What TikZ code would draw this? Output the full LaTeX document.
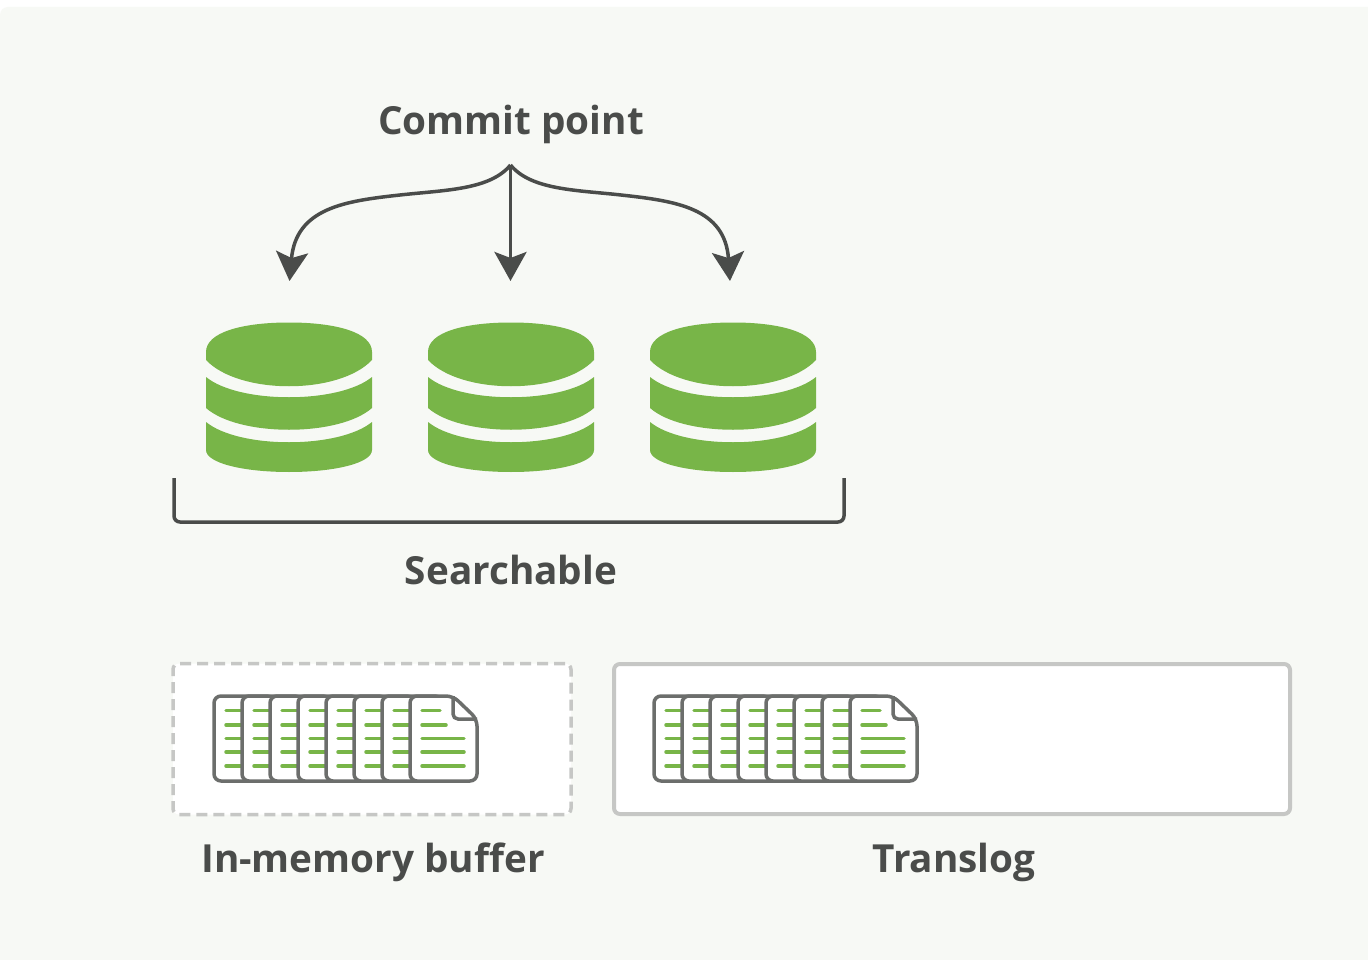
\documentclass[tikz,border=0pt]{standalone}
\usepackage{fontspec}
\setmainfont{Open Sans}
\usepackage[dvipsnames]{xcolor}
\usetikzlibrary{arrows.meta}
\definecolor{panelbg}{HTML}{F7F9F5}
\definecolor{diskgreen}{HTML}{78B548}
\definecolor{inkgray}{HTML}{4A4C4A}
\definecolor{docgray}{HTML}{6C6E6C}
\definecolor{boxgray}{HTML}{C6C7C5}

\tikzset{
    pics/disk/.style={code={
        \fill[diskgreen] (-83,352) .. controls (-83,332) and (-46,322.5) .. (0,322.5) .. controls (46,322.5) and (83,332) .. (83,352) -- (83,360) .. controls (50,395) and (-50,395) .. (-83,360) -- cycle;
        \fill[diskgreen] (-83,377) .. controls (-50,404) and (50,404) .. (83,377) -- (83,408) .. controls (50,437) and (-50,437) .. (-83,408) -- cycle;
        \fill[diskgreen] (-83,422) .. controls (-50,449) and (50,449) .. (83,422) -- (83,450) .. controls (83,463) and (46,472) .. (0,472) .. controls (-46,472) and (-83,463) .. (-83,450) -- cycle;
    }},
    pics/docstack/.style={code={
        \foreach \i in {0,...,6} {
            \draw[docline, fill=white, rounded corners=7pt] ({\i*28},696) rectangle ({\i*28+60},781);
            \foreach \ly in {710.7,725,738.7,752,766}
                \draw[textline] ({\i*28+12},\ly) -- ({\i*28+28},\ly);
        }
        \draw[docline, fill=white, rounded corners=7pt] (196,781) -- (196,696) -- (239,696) -- (263,719) -- (263,781) -- cycle;
        \draw[docline, rounded corners=5pt] (239,696) -- (239,719) -- (263,719);
        \draw[textline] (208,710.7) -- (226,710.7);
        \draw[textline] (208,725) -- (232,725);
        \foreach \ly in {738.7,752,766}
            \draw[textline] (208,\ly) -- (250,\ly);
    }}
}

\begin{document}
\begin{tikzpicture}[x=1pt,y=-1pt,>={Stealth[length=29pt,width=32pt,inset=6pt]},
    docline/.style={draw=docgray,line width=3.5pt},
    textline/.style={draw=diskgreen,line width=3.5pt,line cap=round},
    flow/.style={draw=inkgray,line width=3.5pt},
    caption/.style={font=\bfseries\fontsize{38.7}{46}\selectfont,text=inkgray,inner sep=0pt,anchor=base},
    bufferbox/.style={draw=boxgray,fill=white,line width=3.5pt,rounded corners=6pt,dash pattern=on 11pt off 6pt,minimum width=398pt,minimum height=151pt,inner sep=0pt},
    translogbox/.style={draw=boxgray,fill=white,line width=4pt,rounded corners=6pt,minimum width=676pt,minimum height=150pt,inner sep=0pt}]

    \useasboundingbox (0,0) rectangle (1368,960);
    \fill[white] (0,0) rectangle (1368,960);
    \fill[panelbg, rounded corners=8pt] (0,7) rectangle (1380,970);

    \node[caption] (commit) at (511,135) {Commit point};
    \coordinate (apex) at (510.5,165);
    \coordinate (tipa) at (289.5,281);
    \coordinate (tipb) at (510.5,281);
    \coordinate (tipc) at (730,281);

    \draw[flow,->] (apex) .. controls (490,190) and (445,190) .. (400,195) .. controls (345,201) and (296,208) .. (tipa);
    \draw[flow,->] (apex) to (tipb);
    \draw[flow,->] (apex) .. controls (531,190) and (576,190) .. (621,195) .. controls (676,201) and (725,208) .. (tipc);

    \foreach \x/\name in {289/diska,511/diskb,733/diskc}
        \pic (\name) at (\x,0) {disk};

    \coordinate (bracketa) at (174,478);
    \coordinate (bracketb) at (844,478);
    \draw[flow,rounded corners=6pt] (bracketa) -- (174,522) -- (844,522) -- (bracketb);
    \node[caption] (searchable) at (511,584) {Searchable};

    \node[bufferbox] (buffer) at (372,739) {};
    \node[translogbox] (translog) at (952,739) {};
    \pic (bufferdocs) at (214,0) {docstack};
    \pic (translogdocs) at (654,0) {docstack};

    \node[caption] (bufferlabel) at (373,872) {In-memory buffer};
    \node[caption] (transloglabel) at (954,872) {Translog};
\end{tikzpicture}
\end{document}
